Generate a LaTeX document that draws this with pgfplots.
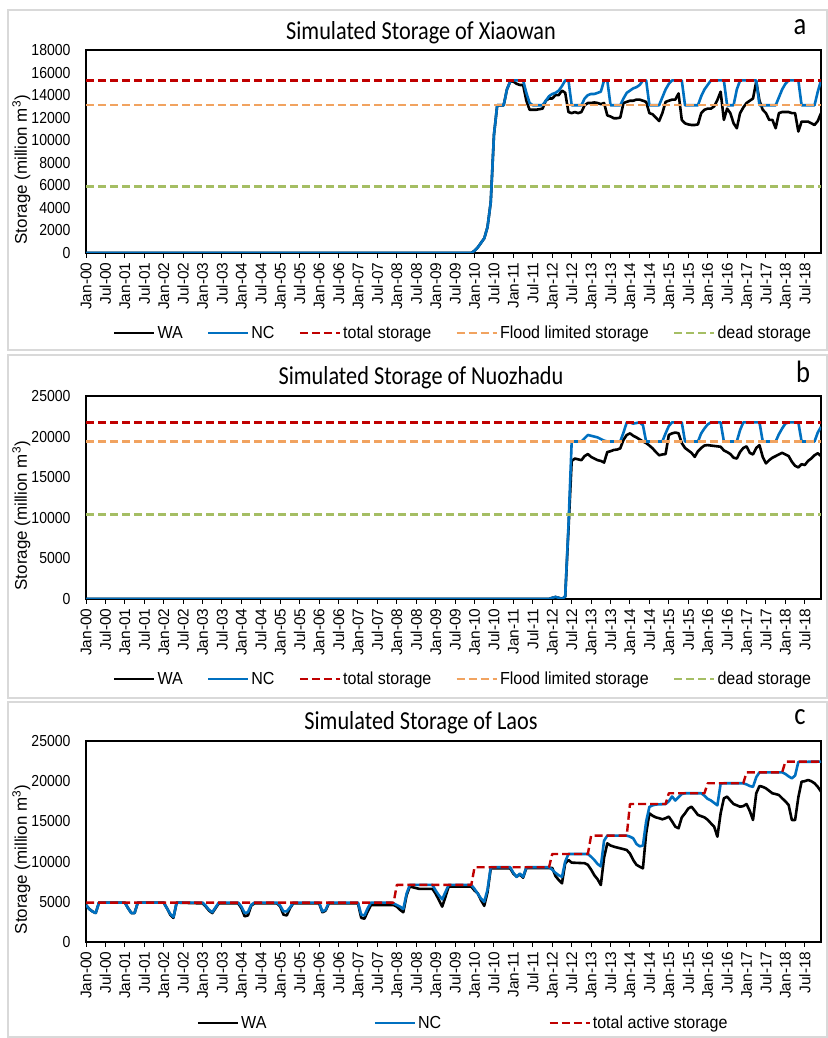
\documentclass[border=0pt]{standalone}
\usepackage{fontspec}
\setmainfont{Liberation Sans}
\newfontfamily\narrowsans[FakeStretch=0.88]{Liberation Sans}
\newfontfamily\legendsans[FakeStretch=0.92]{Liberation Sans}
\newfontfamily\titlesans[FakeStretch=0.86]{Carlito}
\usepackage{pgfplots}
\pgfplotsset{compat=1.18}

\definecolor{ncblue}{RGB}{0,112,192}
\definecolor{capred}{RGB}{192,0,0}
\definecolor{floodorange}{RGB}{241,163,96}
\definecolor{deadgreen}{RGB}{165,190,100}
\definecolor{framegray}{RGB}{217,217,217}

\pgfplotsset{
  panel/.style={
    scale only axis, width=735bp,
    xmin=0, xmax=227,
    axis line style={black, line width=1.2bp},
    xtick={0,6,...,222},
    xticklabels={Jan-00,Jul-00,Jan-01,Jul-01,Jan-02,Jul-02,Jan-03,Jul-03,Jan-04,Jul-04,
      Jan-05,Jul-05,Jan-06,Jul-06,Jan-07,Jul-07,Jan-08,Jul-08,Jan-09,Jul-09,
      Jan-10,Jul-10,Jan-11,Jul-11,Jan-12,Jul-12,Jan-13,Jul-13,Jan-14,Jul-14,
      Jan-15,Jul-15,Jan-16,Jul-16,Jan-17,Jul-17,Jan-18,Jul-18},
    xtick pos=bottom, ytick pos=left,
    tick align=outside,
    major tick length=5bp,
    x tick style={black, line width=1bp},
    y tick style={draw=none},
    scaled y ticks=false,
    /pgf/number format/assume math mode=true,
    /pgf/number format/1000 sep={},
    yticklabel style={font=\narrowsans\fontsize{16}{19}\selectfont, xshift=-7bp},
    xticklabel style={font=\fontsize{15.5}{18}\selectfont, rotate=90, anchor=east, xshift=-1bp},
    ylabel={Storage (million m\textsuperscript{3})},
    ylabel style={font=\fontsize{17}{20}\selectfont, at={(axis description cs:-0.0878,0.41)}, anchor=center},
    legend style={draw=none, fill=none, anchor=center,
      font=\legendsans\fontsize{17.5}{20}\selectfont,
      nodes={inner sep=2bp}},
    legend image code/.code={\draw[#1, line width=2.6bp] (0bp,0bp) -- (40bp,0bp);},
    legend image post style={line width=2.6bp},
    every axis plot/.append style={line join=round},
  },
  wa/.style={black, line width=2.6bp},
  nc/.style={ncblue, line width=2.6bp},
  lvl/.style={line width=2.4bp, dash pattern=on 8bp off 4bp},
}

\begin{document}
\begin{tikzpicture}
\fill[white] (0,0) rectangle (828bp,1038bp);
\useasboundingbox (0,0) rectangle (828bp,1038bp);
% chart area frames
\draw[framegray, line width=1.5bp] (8bp,688bp) rectangle (827bp,1028bp);
\draw[framegray, line width=1.5bp] (8bp,340bp) rectangle (827bp,683bp);
\draw[framegray, line width=1.5bp] (8bp,1bp) rectangle (827bp,336bp);

% ---------------- Xiaowan ----------------
\begin{axis}[panel, at={(86bp,785bp)}, anchor=south west, height=203bp,
  ymin=0, ymax=18000, ytick={0,2000,...,18000},
  legend columns=5,
  legend style={at={(axis description cs:0.513,-0.394)},
    /tikz/every even column/.append style={column sep=22bp}}]
\addplot[wa] coordinates {(0,0) (119,0) (120,200) (121,500) (122,900) (123,1300) (124,2300) (125,4500) (126,10500) (127,13100) (129,13100) (130,14500) (131,15200) (132,15200) (133,15000) (134,14900) (135,14900) (136,13500) (137,12700) (139,12700) (140,12750) (141,12800) (142,13500) (143,13700) (144,13700) (145,14000) (146,14000) (147,14400) (148,14200) (149,12500) (150,12400) (151,12500) (152,12400) (153,12500) (154,13100) (155,13300) (156,13300) (157,13350) (158,13300) (159,13200) (160,13300) (161,12200) (162,12100) (163,11950) (164,11950) (165,12000) (166,13300) (167,13400) (168,13500) (169,13500) (170,13600) (171,13600) (172,13500) (173,13400) (174,12400) (175,12300) (176,12000) (177,11700) (178,12400) (179,13400) (180,13500) (181,13600) (182,13600) (183,14150) (184,11800) (185,11500) (186,11400) (187,11350) (188,11350) (189,11400) (190,12400) (191,12700) (192,12800) (193,12800) (194,13000) (195,13570) (196,14300) (197,11800) (198,12800) (199,12400) (200,11500) (201,11060) (202,12400) (203,12900) (204,13300) (205,13500) (206,13700) (207,15200) (208,13500) (209,12700) (210,12400) (211,11800) (212,11800) (213,11060) (214,12400) (215,12500) (216,12500) (217,12500) (218,12400) (219,12400) (220,10770) (221,11650) (222,11650) (223,11650) (224,11500) (225,11350) (226,11700) (227,12400)};
\addlegendentry{WA}
\addplot[nc] coordinates {(0,0) (119,0) (120,200) (121,500) (122,900) (123,1300) (124,2300) (125,4500) (126,10500) (127,13100) (129,13100) (130,14500) (131,15200) (132,15300) (135,15300) (136,14200) (137,13300) (138,13100) (141,13100) (142,13500) (143,13900) (144,14100) (145,14200) (146,14400) (147,14800) (148,15300) (149,15300) (150,13100) (153,13100) (154,13700) (155,14000) (156,14100) (157,14100) (158,14200) (159,14300) (160,15300) (161,15300) (162,13100) (165,13100) (166,13700) (167,14200) (168,14400) (169,14600) (170,14700) (171,14900) (172,15300) (173,15300) (174,13100) (177,13100) (178,13800) (179,14500) (180,15000) (181,15300) (184,15300) (185,13100) (189,13100) (190,13900) (191,14500) (192,14900) (193,15300) (197,15300) (198,13100) (200,13100) (201,14500) (202,15300) (207,15300) (208,13100) (213,13100) (214,13800) (215,14500) (216,15000) (217,15300) (220,15300) (221,13100) (225,13100) (226,14300) (227,15300)};
\addlegendentry{NC}
\addplot[lvl, capred] coordinates {(0,15300) (227,15300)};
\addlegendentry{total storage}
\addplot[lvl, floodorange] coordinates {(0,13100) (227,13100)};
\addlegendentry{Flood limited storage}
\addplot[lvl, deadgreen] coordinates {(0,5900) (227,5900)};
\addlegendentry{dead storage}
\end{axis}

% ---------------- Nuozhadu ----------------
\begin{axis}[panel, at={(86bp,439bp)}, anchor=south west, height=203bp,
  ymin=0, ymax=25000, ytick={0,5000,...,25000},
  legend columns=5,
  legend style={at={(axis description cs:0.513,-0.394)},
    /tikz/every even column/.append style={column sep=22bp}}]
\addplot[wa] coordinates {(0,0) (143,0) (144,150) (145,250) (146,150) (147,0) (148,300) (149,8500) (150,17000) (151,17300) (152,17200) (153,17100) (154,17600) (155,17850) (156,17500) (157,17300) (158,17100) (159,17000) (160,16800) (161,18100) (162,18200) (163,18350) (164,18400) (165,18550) (166,19600) (167,20200) (168,20400) (169,20100) (170,19900) (171,19650) (172,19400) (173,19200) (174,18900) (175,18550) (176,18100) (177,17700) (178,17800) (179,17850) (180,20200) (181,20400) (182,20500) (183,20400) (184,19200) (185,18600) (186,18300) (187,18000) (188,17500) (189,18200) (190,18600) (191,18900) (192,18950) (193,18900) (194,18850) (195,18800) (196,18750) (197,18300) (198,18100) (199,17850) (200,17400) (201,17300) (202,18100) (203,18600) (204,18800) (205,18000) (206,17800) (207,18600) (208,18950) (209,17500) (210,16700) (211,17100) (212,17400) (213,17600) (214,17800) (215,18000) (216,17800) (217,17600) (218,16900) (219,16400) (220,16200) (221,16600) (222,16500) (223,17000) (224,17300) (225,17700) (226,17950) (227,17600)};
\addlegendentry{WA}
\addplot[nc] coordinates {(0,0) (143,0) (144,150) (145,250) (146,150) (147,0) (148,300) (149,9000) (150,19400) (153,19400) (154,19800) (155,20200) (156,20100) (157,20000) (158,19900) (159,19700) (160,19500) (161,19400) (165,19400) (166,20500) (167,21750) (168,21750) (169,21600) (171,21750) (172,21400) (173,19400) (178,19400) (179,20400) (180,21300) (181,21750) (184,21750) (185,19400) (189,19400) (190,20400) (191,21000) (192,21500) (193,21750) (196,21750) (197,19400) (201,19400) (202,20800) (203,21750) (208,21750) (209,19400) (213,19400) (214,20300) (215,21000) (216,21600) (217,21750) (220,21750) (221,19400) (225,19400) (226,20500) (227,21200)};
\addlegendentry{NC}
\addplot[lvl, capred] coordinates {(0,21750) (227,21750)};
\addlegendentry{total storage}
\addplot[lvl, floodorange] coordinates {(0,19400) (227,19400)};
\addlegendentry{Flood limited storage}
\addplot[lvl, deadgreen] coordinates {(0,10400) (227,10400)};
\addlegendentry{dead storage}
\end{axis}

% ---------------- Laos ----------------
\begin{axis}[panel, at={(86bp,96bp)}, anchor=south west, height=201bp,
  ymin=0, ymax=25000, ytick={0,5000,...,25000},
  legend columns=3,
  legend style={at={(axis description cs:0.513,-0.403)},
    /tikz/every even column/.append style={column sep=105bp}}]
\addplot[wa] coordinates {(0,4600) (1,4100) (2,3800) (3,3600) (4,4900) (12,4900) (13,4200) (14,3600) (15,3600) (16,4900) (24,4900) (25,4200) (26,3400) (27,3000) (28,4900) (36,4800) (37,4400) (38,3900) (39,3600) (40,4200) (41,4800) (47,4800) (48,4200) (49,3200) (50,3300) (51,4500) (52,4800) (59,4800) (60,4400) (61,3400) (62,3300) (63,4200) (64,4800) (72,4800) (73,3700) (74,3900) (75,4800) (84,4800) (85,3000) (86,2900) (87,3800) (88,4600) (95,4600) (96,4400) (97,4000) (98,3700) (99,5800) (100,6900) (101,6800) (102,6700) (103,6600) (107,6600) (108,6000) (109,5200) (110,4400) (111,5600) (112,6880) (119,6880) (120,6400) (121,6050) (122,5200) (123,4500) (124,6200) (125,9160) (131,9160) (132,8500) (133,8130) (134,8400) (135,8000) (136,9200) (144,9200) (145,8200) (146,7710) (147,7300) (148,9800) (149,10200) (150,9870) (154,9800) (155,9600) (156,9000) (157,8300) (158,7800) (159,7090) (160,10500) (161,12270) (162,12000) (163,11860) (164,11750) (165,11650) (166,11550) (167,11440) (168,11000) (169,10200) (170,9600) (171,9370) (172,9160) (173,13500) (174,16000) (175,15700) (176,15500) (177,15400) (178,15260) (179,15400) (180,15590) (181,15000) (182,14350) (183,14140) (184,15500) (185,16000) (186,16600) (187,16830) (188,16330) (189,15800) (190,15650) (191,15500) (192,15200) (193,14760) (194,14350) (195,13100) (196,16000) (197,17870) (198,18080) (199,17600) (200,17160) (201,17000) (202,16830) (203,16900) (204,17160) (205,16300) (206,15170) (207,18500) (208,19400) (209,19300) (210,19110) (211,18800) (212,18490) (213,18400) (214,18280) (215,17870) (216,17500) (217,17040) (218,15170) (219,15170) (220,18000) (221,19940) (222,20000) (223,20150) (224,20000) (225,19740) (226,19300) (227,18700)};
\addlegendentry{WA}
\addplot[nc] coordinates {(0,4600) (1,4100) (2,3800) (3,3600) (4,4900) (12,4900) (13,4200) (14,3600) (15,3600) (16,4900) (24,4900) (25,4200) (26,3500) (27,3100) (28,4900) (36,4900) (37,4500) (38,4000) (39,3700) (40,4300) (41,4900) (47,4900) (48,4400) (49,3600) (50,3700) (51,4600) (52,4900) (59,4900) (60,4500) (61,3800) (62,3800) (63,4300) (64,4900) (72,4900) (73,3800) (74,4000) (75,4900) (84,4900) (85,3400) (86,3300) (87,4200) (88,4900) (94,4900) (95,4800) (96,4600) (97,4400) (98,4100) (99,6000) (100,7100) (107,7100) (108,6400) (109,5800) (110,5300) (111,6200) (112,7100) (119,7100) (120,6600) (121,6000) (122,5400) (123,5000) (124,6500) (125,9300) (131,9300) (132,8600) (133,8100) (134,8500) (135,8100) (136,9300) (143,9300) (144,9000) (145,8600) (146,8300) (147,8100) (148,10000) (149,10950) (155,10950) (156,10600) (157,10200) (158,9700) (159,9400) (160,12600) (161,13230) (167,13230) (168,13100) (169,12900) (170,12200) (171,11900) (172,12000) (173,15000) (174,16800) (175,17000) (176,17100) (179,17160) (180,17500) (181,18100) (182,17600) (183,18000) (184,18400) (185,18500) (190,18500) (191,18200) (192,17800) (193,17600) (194,17300) (195,17000) (196,19700) (197,19740) (203,19740) (204,19600) (205,19400) (206,19300) (207,20500) (208,21100) (215,21100) (216,20900) (217,20600) (218,20360) (219,20700) (220,22400) (227,22430)};
\addlegendentry{NC}
\addplot[lvl, capred] coordinates {(0,4900) (95,4900) (96,7100) (119,7100) (120,9300) (143,9300) (144,10950) (155,10950) (156,13230) (167,13230) (168,17160) (179,17160) (180,18500) (191,18500) (192,19740) (203,19740) (204,21100) (215,21100) (216,22430) (227,22430)};
\addlegendentry{total active storage}
\end{axis}

% titles and panel letters
\node[font=\titlesans\fontsize{26}{29}\selectfont] at (421bp,1005bp) {Simulated Storage of Xiaowan};
\node[font=\titlesans\fontsize{26}{29}\selectfont] at (421bp,660bp) {Simulated Storage of Nuozhadu};
\node[font=\titlesans\fontsize{26}{29}\selectfont] at (421bp,315bp) {Simulated Storage of Laos};
\node[font=\titlesans\fontsize{31}{34}\selectfont] at (800bp,1011bp) {a};
\node[font=\titlesans\fontsize{31}{34}\selectfont] at (803bp,666bp) {b};
\node[font=\titlesans\fontsize{31}{34}\selectfont] at (800bp,321bp) {c};
\end{tikzpicture}
\end{document}
